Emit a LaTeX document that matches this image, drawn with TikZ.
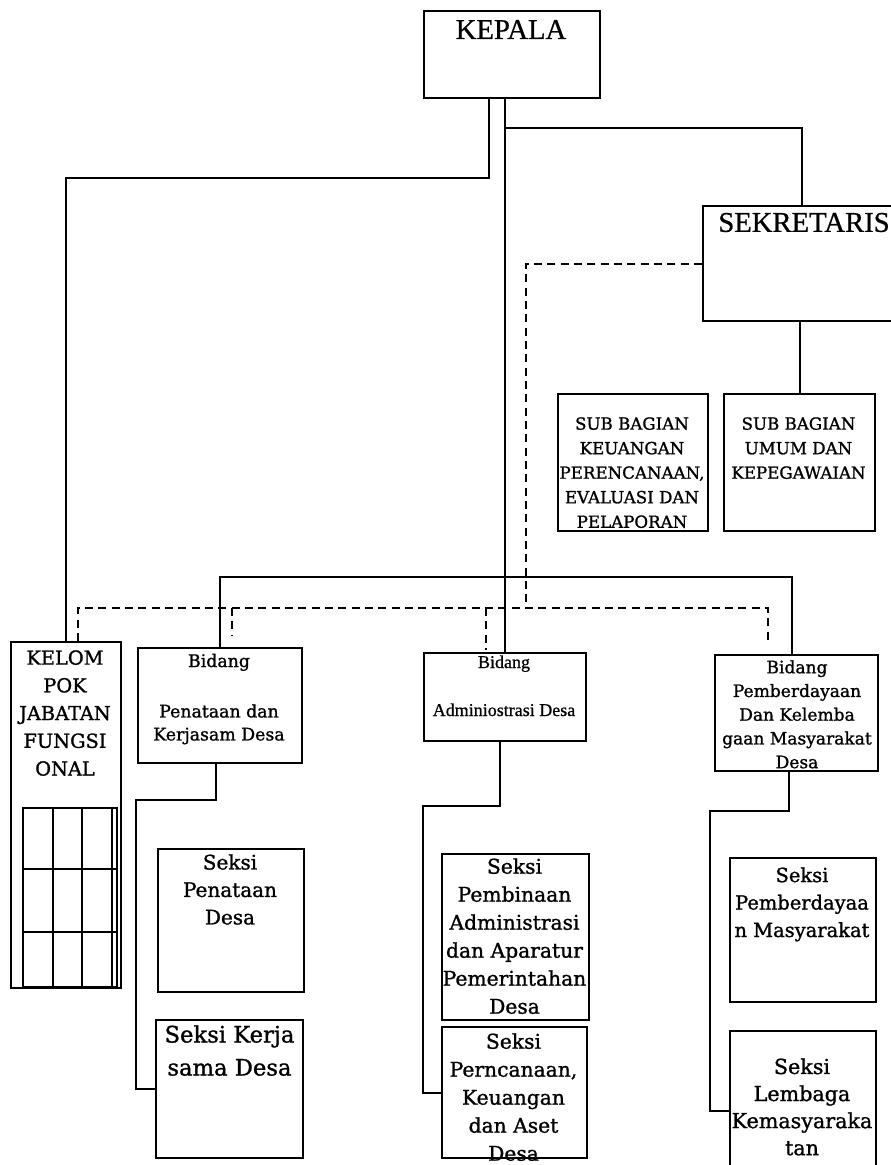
\documentclass[tikz,border=0pt]{standalone}
\usepackage{fontspec}
\setmainfont{DejaVu Serif}[FakeBold=1.2]
\newfontfamily\tms{Liberation Serif}[FakeBold=0.8]
\newcommand\orgbox[5]{\node[box, anchor=north west, minimum width={(#4-#2)*0.75pt}, minimum height={(#5-#3)*0.75pt}] (#1) at (#2,#3) {};}
\tikzset{
  box/.style={draw, line width=1.5pt, inner sep=0pt, rectangle},
  ln/.style={line width=1.5pt},
  dsh/.style={line width=1.5pt, dash pattern=on 6pt off 4pt},
  gl/.style={line width=1pt},
  tx/.style={inner sep=0pt, align=center},
}
\begin{document}
\begin{tikzpicture}[x=0.75pt,y=-0.75pt]
\useasboundingbox (0,0) rectangle (891,1165);
% boxes
\orgbox{kepala}{423}{10}{599}{97}
\orgbox{sek}{702}{205}{900}{320}
\orgbox{subkeu}{557}{393}{707}{530}
\orgbox{subumum}{723}{393}{874}{530}
\orgbox{kel}{10}{641}{120}{987}
\orgbox{bid1}{137}{647}{301}{762}
\orgbox{bid2}{423}{652}{585}{740}
\orgbox{bid3}{714}{654}{877}{770}
\orgbox{s11}{157}{848}{303}{991}
\orgbox{s12}{155}{1019}{302}{1157}
\orgbox{s21}{441}{853}{588}{1019}
\orgbox{s22}{441}{1026}{586}{1157}
\orgbox{s31}{729}{857}{875}{1001}
\orgbox{s32}{729}{1030}{875}{1190}
% grid inside kelompok
\draw[gl] (23,808) rectangle (117,987);
\draw[gl] (53,808) -- (53,987) (82,808) -- (82,987) (112,808) -- (112,987)
          (23,869) -- (117,869) (23,932) -- (117,932);
% texts
\node[tx, font=\tms\fontsize{21.5pt}{24pt}\selectfont] (kepalat) at (511,29.5) {KEPALA};
\node[tx, font=\tms\fontsize{21.5pt}{24pt}\selectfont] (sekt) at (804,222.5) {SEKRETARIS};
\node[tx, anchor=north, font=\fontsize{12.5pt}{18.4pt}\selectfont] (subkeut) at (632,417) {SUB BAGIAN\\KEUANGAN\\PERENCANAAN,\\EVALUASI DAN\\PELAPORAN};
\node[tx, anchor=north, font=\fontsize{12.5pt}{18.4pt}\selectfont] (subumumt) at (798.5,417) {SUB BAGIAN\\UMUM DAN\\KEPEGAWAIAN};
\node[tx, anchor=north, font=\fontsize{14.5pt}{20.8pt}\selectfont] (kelt) at (65,650) {KELOM\\POK\\JABATAN\\FUNGSI\\ONAL};
\node[tx, anchor=base, font=\fontsize{13pt}{17.25pt}\selectfont] (bid1a) at (219,667) {Bidang};
\node[tx, anchor=north, font=\fontsize{13pt}{17.25pt}\selectfont] (bid1b) at (219,704) {Penataan dan\\Kerjasam Desa};
\node[tx, anchor=base, font=\tms\fontsize{13.5pt}{16pt}\selectfont] (bid2a) at (504,668) {Bidang};
\node[tx, anchor=base, font=\tms\fontsize{13.5pt}{16pt}\selectfont] (bid2b) at (504,716) {Adminiostrasi Desa};
\node[tx, anchor=north, font=\fontsize{12.8pt}{17.8pt}\selectfont] (bid3t) at (797,660) {Bidang\\Pemberdayaan\\Dan Kelemba\\gaan Masyarakat\\Desa};
\node[tx, anchor=north, font=\fontsize{15pt}{20.6pt}\selectfont] (s11t) at (230,854) {Seksi\\Penataan\\Desa};
\node[tx, anchor=north, font=\fontsize{17pt}{24.75pt}\selectfont] (s12t) at (229.5,1025) {Seksi Kerja\\sama Desa};
\node[tx, anchor=north, font=\fontsize{15.2pt}{21pt}\selectfont] (s21t) at (514.5,858) {Seksi\\Pembinaan\\Administrasi\\dan Aparatur\\Pemerintahan\\Desa};
\node[tx, anchor=north, font=\fontsize{15.2pt}{21pt}\selectfont] (s22t) at (513.5,1033) {Seksi\\Perncanaan,\\Keuangan\\dan Aset\\Desa};
\node[tx, anchor=north, font=\fontsize{14.6pt}{20.6pt}\selectfont] (s31t) at (802,867) {Seksi\\Pemberdayaa\\n Masyarakat};
\node[tx, anchor=north, font=\fontsize{15.5pt}{20.3pt}\selectfont] (s32t) at (802,1058) {Seksi\\Lembaga\\Kemasyaraka\\tan};
% junction coordinates
\coordinate (j1) at (0,128);
\coordinate (hb) at (0,577);
\coordinate (dj) at (0,608);
\coordinate (x3) at (792,0);
\coordinate (dx) at (526,0);
% solid connectors
\draw[ln] (kepala.south west) ++(66,0) -- ++(0,79) -| (kel.north);
\draw[ln] (bid2.north) -- (bid2.north |- kepala.south);
\draw[ln] (bid2.north |- j1) -| (sek.north);
\draw[ln] (bid1.north) -- (bid1.north |- hb) -- (x3 |- hb) -- (x3 |- bid3.north);
\draw[ln] (subumum.north) -- (subumum.north |- sek.south);
\draw[ln] ([xshift=-3pt]bid1.south) -- ++(0,36) -| ([xshift=-14.25pt]s12.west) -- (s12.west);
\draw[ln] ([xshift=-4pt]bid2.south) -- ++(0,64) -| ([xshift=-13.5pt]s22.west) -- (s22.west);
\draw[ln] ([xshift=-6pt]bid3.south) -- ++(0,39) -| ([xshift=-14.25pt]s32.west) -- (s32.west);
% dashed connectors
\coordinate (d1) at (232,635);
\coordinate (d2) at (486,650);
\coordinate (d3) at (768,643);
\draw[dsh] (sek.west) -| (dx |- dj);
\draw[dsh] ([xshift=9pt]kel.north) -- ([xshift=9pt]kel.north |- dj) -- (d3 |- dj) -- (d3);
\draw[dsh] (d1 |- dj) -- (d1);
\draw[dsh] (d2 |- dj) -- (d2);
\end{tikzpicture}
\end{document}
